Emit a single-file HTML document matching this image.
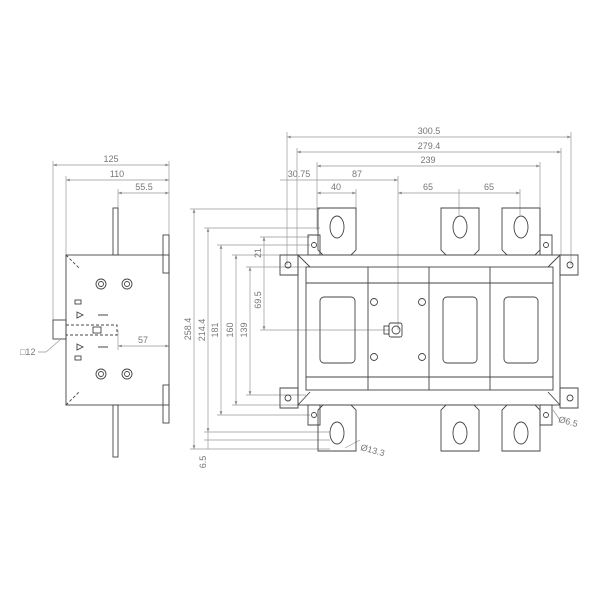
<!DOCTYPE html>
<html><head><meta charset="utf-8"><style>body{margin:0;background:#fff}svg{display:block}text{font-family:"Liberation Sans",sans-serif;font-size:9px;fill:#777}</style></head><body>
<svg width="600" height="600" viewBox="0 0 600 600" xmlns="http://www.w3.org/2000/svg">
<defs><marker id="a" viewBox="0 0 8 6" refX="8" refY="3" markerWidth="6" markerHeight="4" orient="auto-start-reverse"><path d="M0,0L8,3L0,6z" fill="#888"/></marker></defs>
<g stroke="#999" stroke-width="0.7" fill="none">
<!-- top dims -->
<line x1="287" y1="137" x2="571" y2="137" marker-start="url(#a)" marker-end="url(#a)"/>
<line x1="297" y1="152" x2="561" y2="152" marker-start="url(#a)" marker-end="url(#a)"/>
<line x1="317" y1="166" x2="540" y2="166" marker-start="url(#a)" marker-end="url(#a)"/>
<line x1="280" y1="180" x2="398" y2="180" marker-end="url(#a)"/>
<line x1="317" y1="193" x2="356" y2="193" marker-start="url(#a)" marker-end="url(#a)"/>
<line x1="398" y1="193" x2="520" y2="193" marker-start="url(#a)" marker-end="url(#a)"/>
<path d="M287 132V265M571 132V265M297 148V255M561 148V255M317 162V230M540 162V230M398 176V330M356 189V215M459 189V215M520 189V215"/>
<!-- left dims -->
<line x1="194" y1="209" x2="194" y2="449" marker-start="url(#a)" marker-end="url(#a)"/>
<line x1="208" y1="228" x2="208" y2="432" marker-start="url(#a)" marker-end="url(#a)"/>
<line x1="221" y1="245" x2="221" y2="415" marker-start="url(#a)" marker-end="url(#a)"/>
<line x1="236" y1="255" x2="236" y2="405" marker-start="url(#a)" marker-end="url(#a)"/>
<line x1="250" y1="267" x2="250" y2="395" marker-start="url(#a)" marker-end="url(#a)"/>
<line x1="264" y1="237" x2="264" y2="330" marker-start="url(#a)" marker-end="url(#a)"/>
<line x1="208" y1="432" x2="208" y2="449"/>
<path d="M190 209H320M204 228H320M217 245H310M232 255H298M246 267H306M246 395H306M232 405H298M217 415H310M204 432H330M204 440H330M190 449H330M260 237H310M260 267H300M260 330H390"/>
<!-- side view dims -->
<line x1="53" y1="165" x2="169" y2="165" marker-start="url(#a)" marker-end="url(#a)"/>
<line x1="66" y1="180" x2="169" y2="180" marker-start="url(#a)" marker-end="url(#a)"/>
<line x1="118" y1="193" x2="169" y2="193" marker-start="url(#a)" marker-end="url(#a)"/>
<line x1="118" y1="346" x2="169" y2="346" marker-start="url(#a)" marker-end="url(#a)"/>
<path d="M53 161V320M66 176V255M169 161V235M118 189V208M118 330V350M38 352H46L60 340"/>
<path d="M345 448L360 440M553 410L560 420"/>
</g>
<g stroke="#444" stroke-width="0.9" fill="none">
<!-- main body -->
<rect x="298" y="255" width="262" height="150"/>
<rect x="306" y="267" width="247" height="123"/>
<path d="M368 267V390M429 267V390M490 267V390M306 283H553M306 377H553M298 255L310 267M560 255L548 267M298 405L310 392M560 405L548 392"/>
<path d="M280 255h18v20h-18zM280 388h18v20h-18zM560 255h18v20h-18zM560 388h18v20h-18z"/>
<circle cx="288" cy="265" r="3"/><circle cx="288" cy="398" r="3"/><circle cx="570" cy="265" r="3"/><circle cx="570" cy="398" r="3"/>
<path d="M308 235h12v20h-12zM540 235h12v20h-12zM308 405h12v20h-12zM540 405h12v20h-12z"/>
<circle cx="314" cy="245" r="2.5"/><circle cx="546" cy="245" r="2.5"/><circle cx="314" cy="415" r="2.5"/><circle cx="546" cy="415" r="2.5"/>
<!-- terminals -->
<g id="t"><path d="M318 208H356V250L351 255H323L318 250Z"/><ellipse cx="337" cy="227" rx="7" ry="11"/></g>
<use href="#t" x="123"/><use href="#t" x="184"/>
<g id="b"><path d="M318 451H356V410L351 405H323L318 410Z"/><ellipse cx="337" cy="433" rx="7" ry="11"/></g>
<use href="#b" x="123"/><use href="#b" x="184"/>
<!-- windows -->
<rect x="320" y="297" width="35" height="66" rx="4"/><rect x="443" y="297" width="34" height="66" rx="4"/><rect x="504" y="297" width="34" height="66" rx="4"/>
<circle cx="374" cy="302" r="3.5"/><circle cx="422" cy="302" r="3.5"/><circle cx="374" cy="357" r="3.5"/><circle cx="422" cy="357" r="3.5"/>
<rect x="389" y="323" width="13" height="14" rx="2"/><circle cx="396" cy="330" r="4"/><rect x="384" y="326" width="5" height="8"/>
<!-- side view -->
<rect x="66" y="255" width="103" height="150"/>
<rect x="113" y="208" width="5" height="47"/><rect x="113" y="405" width="5" height="52"/>
<rect x="163" y="235" width="6" height="38"/><rect x="163" y="385" width="6" height="38"/>
<rect x="53" y="320" width="13" height="19"/>
<path d="M66 325H117V335H66M66 255L80 269M66 405L80 391" stroke-dasharray="3 2"/>
<rect x="93" y="327" width="8" height="6"/>
<circle cx="101" cy="284" r="5"/><circle cx="127" cy="284" r="5"/><circle cx="101" cy="374" r="5"/><circle cx="127" cy="374" r="5"/>
<circle cx="101" cy="284" r="2.5"/><circle cx="127" cy="284" r="2.5"/><circle cx="101" cy="374" r="2.5"/><circle cx="127" cy="374" r="2.5"/>
<path d="M77 312l6 3l-6 3zM77 344l6 3l-6 3zM98 315h10M98 347h10"/>
<rect x="75" y="300" width="6" height="4"/><rect x="75" y="356" width="6" height="4"/>
</g>
<g>
<text x="429" y="134" text-anchor="middle">300.5</text>
<text x="429" y="149" text-anchor="middle">279.4</text>
<text x="428" y="163" text-anchor="middle">239</text>
<text x="299" y="177" text-anchor="middle">30.75</text>
<text x="357" y="177" text-anchor="middle">87</text>
<text x="336" y="190" text-anchor="middle">40</text>
<text x="428" y="190" text-anchor="middle">65</text>
<text x="489" y="190" text-anchor="middle">65</text>
<text x="111" y="162" text-anchor="middle">125</text>
<text x="117" y="177" text-anchor="middle">110</text>
<text x="144" y="190" text-anchor="middle">55.5</text>
<text x="143" y="343" text-anchor="middle">57</text>
<text x="20" y="355">□12</text>
<text transform="translate(191 329) rotate(-90)" text-anchor="middle">258.4</text>
<text transform="translate(205 330) rotate(-90)" text-anchor="middle">214.4</text>
<text transform="translate(218 330) rotate(-90)" text-anchor="middle">181</text>
<text transform="translate(233 330) rotate(-90)" text-anchor="middle">160</text>
<text transform="translate(247 330) rotate(-90)" text-anchor="middle">139</text>
<text transform="translate(261 253) rotate(-90)" text-anchor="middle">21</text>
<text transform="translate(261 300) rotate(-90)" text-anchor="middle">69.5</text>
<text transform="translate(206 462) rotate(-90)" text-anchor="middle">6.5</text>
<text transform="translate(360 450) rotate(15)">Ø13.3</text>
<text transform="translate(558 422) rotate(15)">Ø6.5</text>
</g>
</svg>
</body></html>
